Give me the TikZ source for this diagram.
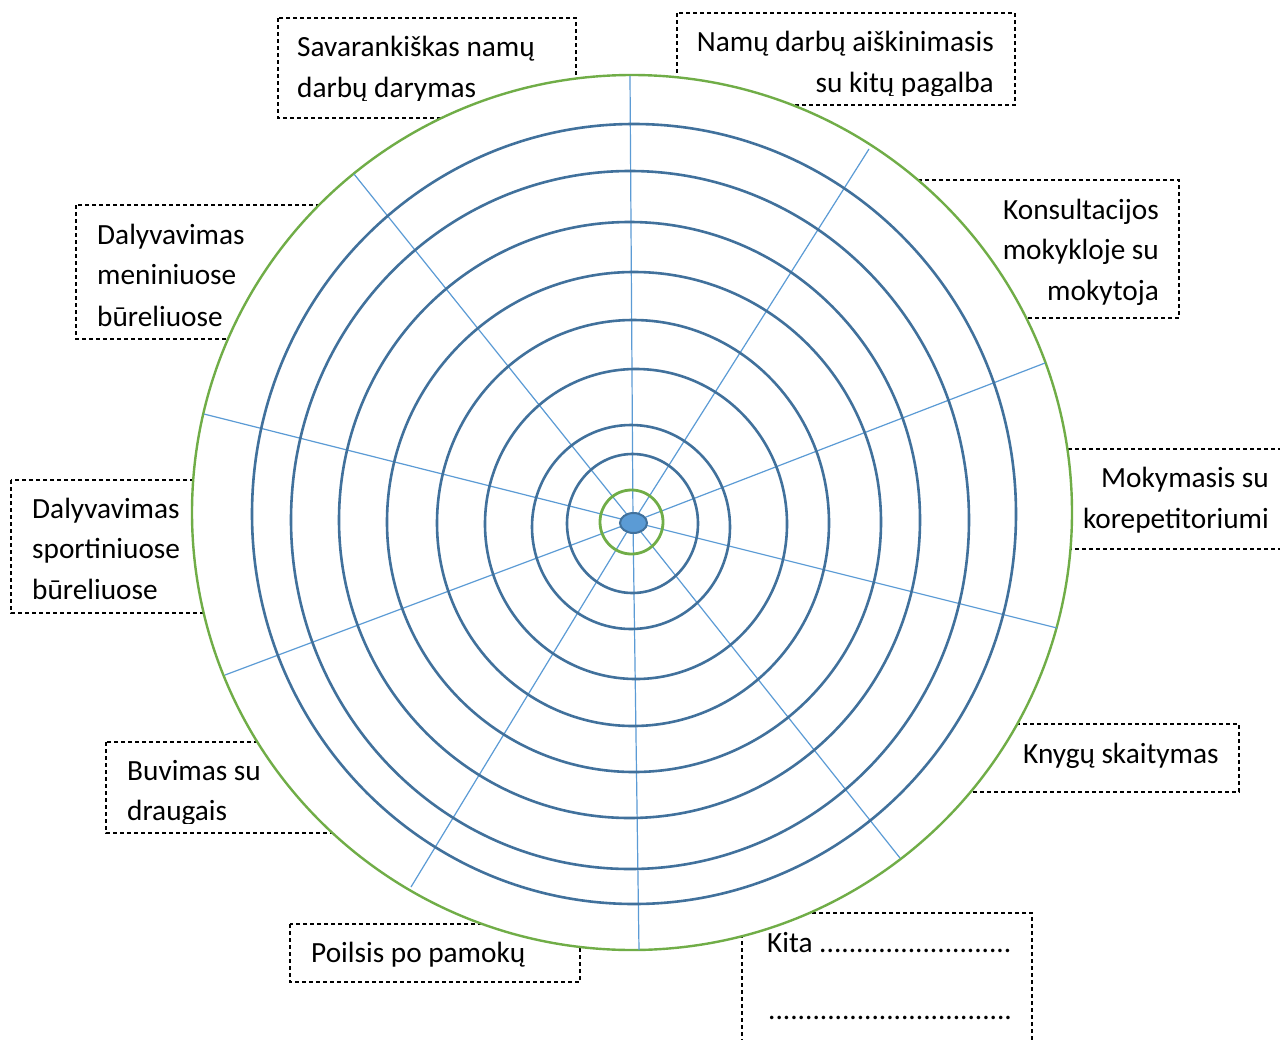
\documentclass[tikz,border=0pt]{standalone}
\usepackage{fontspec}
\setmainfont{Carlito}
\definecolor{ringblue}{HTML}{41719C}
\definecolor{spokeblue}{HTML}{5B9BD5}
\definecolor{ringgreen}{HTML}{70AD47}
\begin{document}
\begin{tikzpicture}[x=1pt,y=-1pt,
  box/.style={draw=black, line width=1.1pt, dash pattern=on 4pt off 3pt},
  ring/.style={draw=ringblue, line width=2.6pt},
  gring/.style={draw=ringgreen, line width=2.4pt},
  spoke/.style={draw=spokeblue, line width=1.2pt},
  lbl/.style={inner sep=0pt, font=\fontsize{29.3}{41}\selectfont}]
\useasboundingbox (0,0) rectangle (1280,1039);
\fill[white] (0,0) rectangle (1280,1039);

% dashed boxes (behind the wheel)
\draw[box] (278,18) rectangle (576,118);
\draw[box] (677,13) rectangle (1015,105);
\draw[box] (900,180) rectangle (1179,318);
\draw[box] (1000,449) rectangle (1300,549);
\draw[box] (76,205) rectangle (330,339);
\draw[box] (11,480) rectangle (260,613);
\draw[box] (106,742) rectangle (350,833);
\draw[box] (290,924) rectangle (580,982);
\draw[box] (950,724) rectangle (1239,792);
\draw[box] (742,913) rectangle (1032,1080);

% wheel
\coordinate (c) at (633,522);
\draw[gring, fill=white] (632,512.5) ellipse [x radius=440pt, y radius=437.5pt];

\coordinate (e1) at (630,76);
\coordinate (e2) at (869,149);
\coordinate (e3) at (1045,363);
\coordinate (e4) at (1057,628);
\coordinate (e5) at (900,858);
\coordinate (e6) at (639,950);
\coordinate (e7) at (411,887);
\coordinate (e8) at (225,675);
\coordinate (e9) at (204,414);
\coordinate (e10) at (354,174);
\foreach \e in {e1,e2,e3,e4,e5,e6,e7,e8,e9,e10} \draw[spoke] (c) -- (\e);

\draw[ring] (634,514) ellipse [x radius=382pt, y radius=390pt];
\draw[ring] (630,520) ellipse [x radius=339pt, y radius=349pt];
\draw[ring] (629.5,520) ellipse [x radius=290.5pt, y radius=298pt];
\draw[ring] (634,522) ellipse [x radius=247pt, y radius=250pt];
\draw[ring] (633,523) ellipse [x radius=196pt, y radius=203pt];
\draw[ring] (636,524) ellipse [x radius=151pt, y radius=155pt];
\draw[ring] (631,527) ellipse [x radius=99pt, y radius=102pt];
\draw[ring] (632.5,523.5) ellipse [x radius=65.5pt, y radius=69.5pt];
\draw[gring, line width=2.8pt] (631.5,522) ellipse [x radius=31.5pt, y radius=32pt];
\draw[draw=ringblue, line width=2pt, fill=spokeblue] (633.5,523) ellipse [x radius=13.5pt, y radius=10pt];

% labels
\node[lbl, anchor=base west] (b1a) at (297,56) {Savarankiškas namų};
\begin{scope}
  \clip (278,18) rectangle (576,100);
  \node[lbl, anchor=base west] (b1b) at (297,97) {darbų darymas};
\end{scope}
\node[lbl, anchor=base east] (b2a) at (994,51) {Namų darbų aiškinimasis};
\begin{scope}
  \clip (677,13) rectangle (1015,95);
  \node[lbl, anchor=base east] (b2b) at (994,92) {su kitų pagalba};
\end{scope}
\node[lbl, anchor=base east] (b3a) at (1159,219) {Konsultacijos};
\node[lbl, anchor=base east] (b3b) at (1159,259) {mokykloje su};
\node[lbl, anchor=base east] (b3c) at (1159,300) {mokytoja};
\node[lbl, anchor=base east] (b4a) at (1269,487) {Mokymasis su};
\node[lbl, anchor=base east] (b4b) at (1269,528) {korepetitoriumi};
\node[lbl, anchor=base west] (b5a) at (97,244) {Dalyvavimas};
\node[lbl, anchor=base west] (b5b) at (97,284) {meniniuose};
\node[lbl, anchor=base west] (b5c) at (97,326) {būreliuose};
\node[lbl, anchor=base west] (b6a) at (32,518) {Dalyvavimas};
\node[lbl, anchor=base west] (b6b) at (32,558) {sportiniuose};
\node[lbl, anchor=base west] (b6c) at (32,599) {būreliuose};
\node[lbl, anchor=base west] (b7a) at (127,780) {Buvimas su};
\begin{scope}
  \clip (106,742) rectangle (350,823);
  \node[lbl, anchor=base west] (b7b) at (127,820) {draugais};
\end{scope}
\node[lbl, anchor=base west] (b8) at (311,962) {Poilsis po pamokų};
\node[lbl, anchor=base west] (b9) at (1023,763) {Knygų skaitymas};
\node[lbl, anchor=base west] (b10a) at (767,952) {Kita ..........................};
\node[lbl, anchor=base west] (b10b) at (768,1019) {.................................};
\end{tikzpicture}
\end{document}
